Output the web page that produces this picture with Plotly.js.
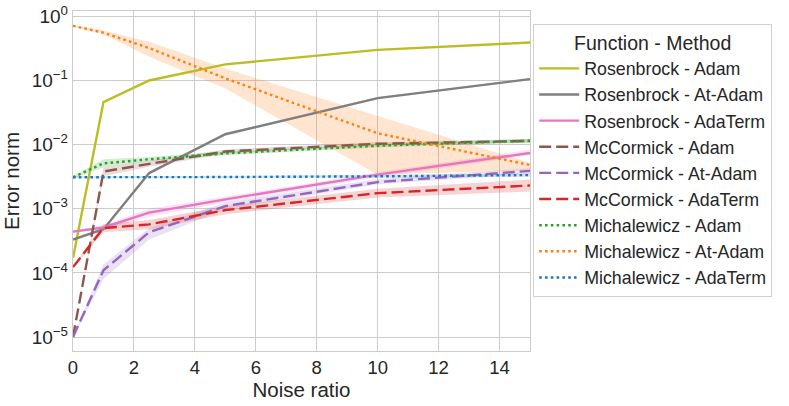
<!DOCTYPE html>
<html>
<head>
<meta charset="utf-8">
<script src="https://cdn.plot.ly/plotly-3.0.1.min.js"></script>
<style>html,body{margin:0;padding:0;background:#fff;}#chart{width:789px;height:406px;}</style>
</head>
<body>
<div id="chart"></div>
<script>
// Noise ratio values
var noise = [0, 1, 2.5, 5, 10, 15];

// Series means
var rosAdam      = [1.7e-4, 0.046, 0.10, 0.178, 0.30, 0.39];
var rosAtAdam    = [3.3e-4, 4.8e-4, 3.6e-3, 0.0145, 0.053, 0.105];
var rosAdaTerm   = [4.4e-4, 5.1e-4, 8.7e-4, 1.4e-3, 3.4e-3, 7.4e-3];
var mcAdam       = [1e-5, 3.8e-3, 5.0e-3, 7.8e-3, 0.0103, 0.0114];
var mcAtAdam     = [1e-5, 1.1e-4, 4.3e-4, 1.1e-3, 2.6e-3, 3.9e-3];
var mcAdaTerm    = [1.23e-4, 5.0e-4, 5.7e-4, 9.5e-4, 1.75e-3, 2.3e-3];
var michAdam     = [3.1e-3, 5.1e-3, 5.9e-3, 7.3e-3, 9.6e-3, 0.0115];
var michAtAdam   = [0.71, 0.556, 0.32, 0.108, 0.015, 4.8e-3];
var michAdaTerm  = [3.1e-3, 3.1e-3, 3.1e-3, 3.12e-3, 3.2e-3, 3.35e-3];

// Confidence band bounds
var rosAdamLo     = [1.65e-4, 0.045, 0.098, 0.174, 0.294, 0.382];
var rosAdamHi     = [1.75e-4, 0.047, 0.102, 0.182, 0.306, 0.398];
var rosAtAdamLo   = [3.2e-4, 4.6e-4, 3.5e-3, 0.014, 0.051, 0.102];
var rosAtAdamHi   = [3.4e-4, 5.0e-4, 3.7e-3, 0.015, 0.055, 0.108];
var rosAdaTermLo  = [4.3e-4, 4.6e-4, 7.5e-4, 1.25e-3, 3.1e-3, 6.8e-3];
var rosAdaTermHi  = [4.5e-4, 5.6e-4, 1.0e-3, 1.55e-3, 3.7e-3, 8.3e-3];
var mcAdamLo      = [1e-5, 3.2e-3, 4.5e-3, 7.2e-3, 9.6e-3, 0.0107];
var mcAdamHi      = [1e-5, 4.4e-3, 5.6e-3, 8.4e-3, 0.011, 0.0122];
var mcAtAdamLo    = [1e-5, 8e-5, 3.3e-4, 9.8e-4, 2.4e-3, 3.5e-3];
var mcAtAdamHi    = [1e-5, 1.35e-4, 5.0e-4, 1.25e-3, 2.9e-3, 4.3e-3];
var mcAdaTermLo   = [1.2e-4, 4.3e-4, 4.8e-4, 8.2e-4, 1.5e-3, 1.85e-3];
var mcAdaTermHi   = [1.26e-4, 5.8e-4, 6.7e-4, 1.1e-3, 2.05e-3, 2.85e-3];
var michAdamLo    = [3.0e-3, 4.4e-3, 5.5e-3, 6.8e-3, 9.0e-3, 0.0107];
var michAdamHi    = [3.2e-3, 5.9e-3, 6.4e-3, 7.8e-3, 0.0103, 0.0123];
var michAtAdamLo  = [0.69, 0.52, 0.235, 0.075, 3.4e-3, 4.0e-3];
var michAtAdamHi  = [0.73, 0.60, 0.40, 0.153, 0.028, 5.2e-3];
var michAdaTermLo = [3.0e-3, 3.0e-3, 3.0e-3, 3.02e-3, 3.05e-3, 3.15e-3];
var michAdaTermHi = [3.2e-3, 3.2e-3, 3.2e-3, 3.25e-3, 3.38e-3, 3.55e-3];

// Labels
var seriesNames = ["Rosenbrock - Adam", "Rosenbrock - At-Adam", "Rosenbrock - AdaTerm",
  "McCormick - Adam", "McCormick - At-Adam", "McCormick - AdaTerm",
  "Michalewicz - Adam", "Michalewicz - At-Adam", "Michalewicz - AdaTerm"];
var xTicks = [0, 2, 4, 6, 8, 10, 12, 14];
var yTickVals = [1e-5, 1e-4, 1e-3, 1e-2, 1e-1, 1];
var yTickText = ["10<sup>\u22125</sup>", "10<sup>\u22124</sup>", "10<sup>\u22123</sup>",
  "10<sup>\u22122</sup>", "10<sup>\u22121</sup>", "10<sup>0</sup>"];

var means = [rosAdam, rosAtAdam, rosAdaTerm, mcAdam, mcAtAdam, mcAdaTerm, michAdam, michAtAdam, michAdaTerm];
var los = [rosAdamLo, rosAtAdamLo, rosAdaTermLo, mcAdamLo, mcAtAdamLo, mcAdaTermLo, michAdamLo, michAtAdamLo, michAdaTermLo];
var his = [rosAdamHi, rosAtAdamHi, rosAdaTermHi, mcAdamHi, mcAtAdamHi, mcAdaTermHi, michAdamHi, michAtAdamHi, michAdaTermHi];

var colors = ["#bcbd22", "#7f7f7f", "#e377c2", "#8c564b", "#9467bd", "#d62728", "#2ca02c", "#ff7f0e", "#1f77b4"];
var fills = ["rgba(188,189,34,0.2)", "rgba(127,127,127,0.2)", "rgba(227,119,194,0.2)", "rgba(140,86,75,0.2)",
  "rgba(148,103,189,0.2)", "rgba(214,39,40,0.2)", "rgba(44,160,44,0.2)", "rgba(255,127,14,0.2)", "rgba(31,119,180,0.2)"];
var dashes = ["solid", "solid", "solid", "12px,5px", "12px,5px", "12px,5px", "2.6px,3.2px", "2.6px,3.2px", "2.6px,3.2px"];

var traces = [];
for (var i = 0; i < means.length; i++) {
  traces.push({x: noise, y: los[i], type: "scatter", mode: "lines", line: {width: 0, color: colors[i]},
    showlegend: false, hoverinfo: "skip"});
  traces.push({x: noise, y: his[i], type: "scatter", mode: "lines", line: {width: 0, color: colors[i]},
    fill: "tonexty", fillcolor: fills[i], showlegend: false, hoverinfo: "skip"});
}
for (var j = 0; j < means.length; j++) {
  traces.push({x: noise, y: means[j], type: "scatter", mode: "lines", name: seriesNames[j],
    line: {color: colors[j], width: 2.4, dash: dashes[j]}});
}

var fontFam = "Liberation Sans, Arial, sans-serif";
var layout = {
  width: 789, height: 406,
  margin: {l: 73, r: 259, t: 11, b: 55},
  paper_bgcolor: "#ffffff", plot_bgcolor: "#ffffff",
  font: {family: fontFam, color: "#262626", size: 18},
  showlegend: true,
  xaxis: {
    range: [0, 15], tickvals: xTicks, ticktext: xTicks.map(String),
    showgrid: true, gridcolor: "#cccccc", gridwidth: 1,
    showline: true, mirror: true, linecolor: "#cccccc", linewidth: 1.2,
    zeroline: false, ticks: "", tickfont: {size: 18.5, color: "#262626"},
    title: {text: "Noise ratio", font: {size: 20.5, color: "#262626"}, standoff: 0}
  },
  yaxis: {
    type: "log", range: [-5.218, 0.083], tickvals: yTickVals, ticktext: yTickText,
    showgrid: true, gridcolor: "#cccccc", gridwidth: 1,
    showline: true, mirror: true, linecolor: "#cccccc", linewidth: 1.2,
    zeroline: false, ticks: "", tickfont: {size: 19, color: "#262626"},
    title: {text: "Error norm", font: {size: 20.5, color: "#262626"}, standoff: 6}
  },
  legend: {
    x: 1.007, xanchor: "left", y: 0.962, yanchor: "top",
    bgcolor: "#ffffff", bordercolor: "#d0d0d0", borderwidth: 1,
    font: {size: 17.8, color: "#262626", family: fontFam},
    title: {text: "Function - Method", side: "top center", font: {size: 19.5, color: "#262626"}},
    traceorder: "normal", itemwidth: 40
  }
};

Plotly.newPlot("chart", traces, layout, {staticPlot: true, displayModeBar: false});
</script>
</body>
</html>
